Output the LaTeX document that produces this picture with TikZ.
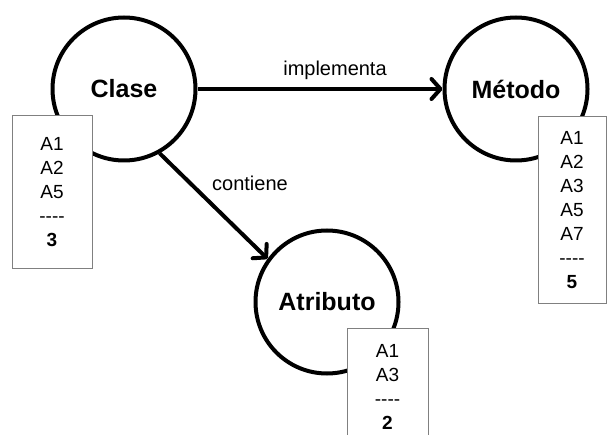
\documentclass[tikz,border=0pt]{standalone}
\usepackage{fontspec}
\setmainfont{Liberation Sans}
\usetikzlibrary{arrows.meta}
\begin{document}
\begin{tikzpicture}[x=1pt,y=-1pt,
  concept/.style={circle,draw=black,line width=4pt,minimum size=143pt,inner sep=0pt,font=\fontsize{25}{30}\selectfont\bfseries},
  listbox/.style={rectangle,draw=black!50,line width=1pt,fill=white,inner sep=0pt,align=center,font=\fontsize{19}{24}\selectfont},
  rel/.style={line width=4pt,-{Straight Barb[length=9pt,width=20pt,line cap=round,line join=round]}},
  rellabel/.style={font=\fontsize{20}{24}\selectfont}]
\useasboundingbox (0,0) rectangle (607,435);
\node[concept] (clase) at (124,89) {Clase};
\node[concept] (metodo) at (516,89) {Método};
\node[concept] (atributo) at (327,302) {Atributo};
\draw[rel] (clase) -- (metodo);
\draw[rel] (clase.-61) -- (atributo.144);
\node[rellabel] (limpl) at (335,70) {implementa};
\node[rellabel] (lcont) at (250,183) {contiene};
\node[listbox,minimum width=80pt,minimum height=153pt] (bclase) at (52,192.5) {A1\\A2\\A5\\{-}{-}{-}{-}\\\textbf{3}};
\node[listbox,minimum width=68pt,minimum height=186pt] (bmetodo) at (572,210) {A1\\A2\\A3\\A5\\A7\\{-}{-}{-}{-}\\\textbf{5}};
\node[listbox,minimum width=81pt,minimum height=117pt] (batributo) at (387.5,386.5) {A1\\A3\\{-}{-}{-}{-}\\\textbf{2}};
\end{tikzpicture}
\end{document}
